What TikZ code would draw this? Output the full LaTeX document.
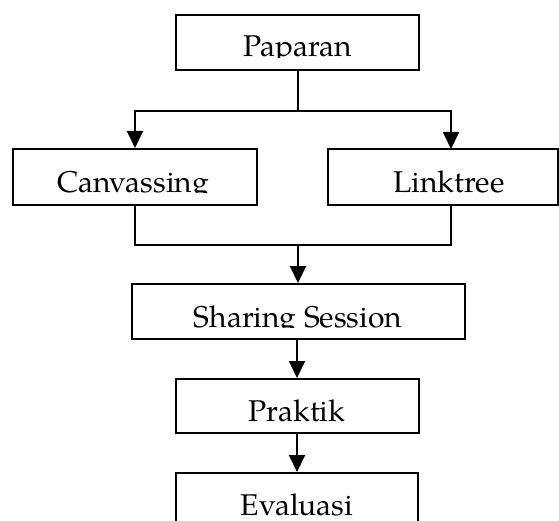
\documentclass[tikz,border=0pt]{standalone}
\usepackage{fontspec}
\setmainfont{TeX Gyre Pagella}
\usetikzlibrary{arrows.meta}
\tikzset{
  box/.style={draw, line width=2pt, rectangle, inner sep=0pt, fill=none},
  lbl/.style={anchor=base, inner sep=0pt, font=\fontsize{30}{35}\selectfont},
  conn/.style={line width=2pt},
  arr/.style={line width=2pt, -{Triangle[width=16pt,length=17pt]}},
}
\begin{document}
\begin{tikzpicture}[x=1pt,y=-1pt]
\useasboundingbox (0,0) rectangle (559,521);
% boxes
\node[box, minimum width=243pt, minimum height=55pt] (pap) at (297.5,42.5) {};
\node[box, minimum width=244pt, minimum height=56pt] (canv) at (135,177) {};
\node[box, minimum width=230pt, minimum height=56pt] (link) at (443,177) {};
\node[box, minimum width=333pt, minimum height=55pt] (share) at (298.5,311.5) {};
\node[box, minimum width=243pt, minimum height=54pt] (prak) at (297,406) {};
\node[box, minimum width=242pt, minimum height=80pt] (eval) at (297,513) {};
% labels, clipped at the baseline
\begin{scope}\clip (176,15) rectangle (419,57.5);
\node[lbl] (tpap) at (297.5,57) {Paparan};\end{scope}
\begin{scope}\clip (13,149) rectangle (257,193);
\node[lbl] (tcanv) at (133,192.5) {Canvassing};\end{scope}
\begin{scope}\clip (328,149) rectangle (558,193);
\node[lbl] (tlink) at (449,192.5) {Linktree};\end{scope}
\begin{scope}\clip (132,284) rectangle (465,327.5);
\node[lbl] (tshare) at (298,327) {Sharing Session};\end{scope}
\node[lbl] (tprak) at (297,421) {Praktik};
\node[lbl] (teval) at (297,515) {Evaluasi};
% connectors
\coordinate (split) at (298,111);
\coordinate (linkin) at (451,149);
\coordinate (linkout) at (451,205);
\coordinate (merge) at (298,245);
\draw[conn] (pap.south -| split) -- (split);
\draw[arr] (split) -| (canv.north);
\draw[arr] (split) -| (linkin);
\draw[conn] (canv.south) |- (merge) -| (linkout);
\draw[arr] (merge) -- (merge |- share.north);
\draw[arr] (share.south -| prak.north) -- (prak.north);
\draw[arr] (prak.south) -- (eval.north);
\end{tikzpicture}
\end{document}
